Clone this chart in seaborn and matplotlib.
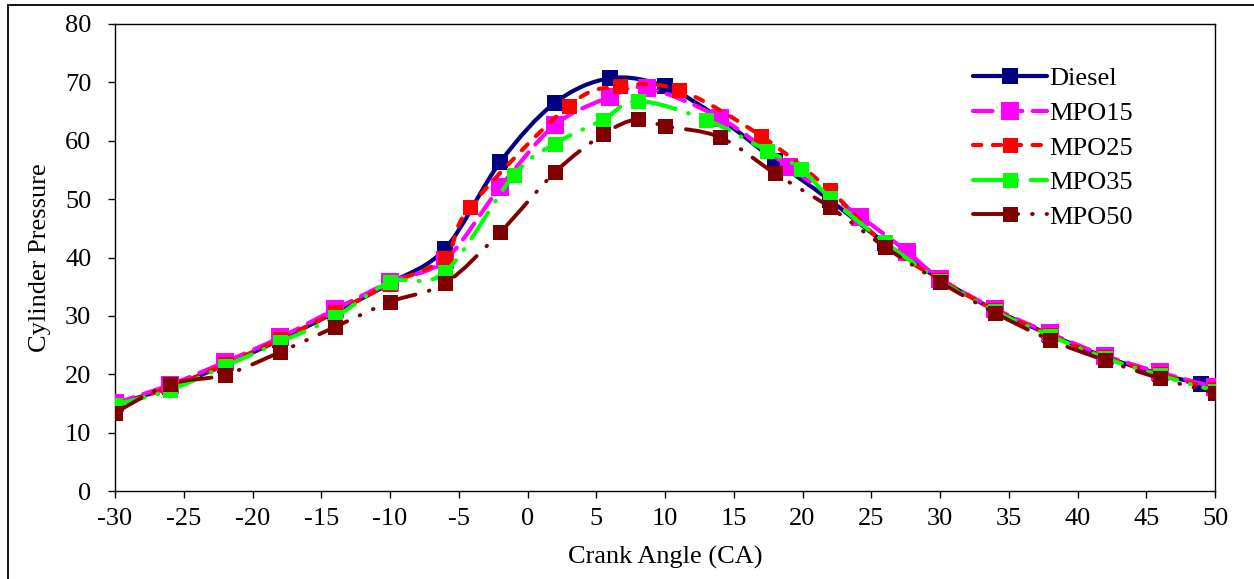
import numpy as np
import matplotlib
matplotlib.use("Agg")
import matplotlib.pyplot as plt
import seaborn as sns
from matplotlib.path import Path
from matplotlib.patches import PathPatch, Rectangle
from matplotlib.lines import Line2D

# ---------------- data ----------------
diesel_x = [-30, -26, -22, -18, -14, -10, -6, -2, 2, 6, 10, 14, 18, 22, 26, 30, 34, 38, 42, 46, 49]
diesel_y = [14.8, 17.8, 21.6, 25.9, 30.6, 35.6, 41.5, 56.3, 66.5, 70.7, 69.3, 63.8, 56.6, 49.8, 42.5, 36.3, 31.0, 26.8, 23.0, 20.0, 18.4]

mpo15_x = [-30, -26, -22, -18, -14, -10, -6, -2, 2, 6, 8.7, 14, 19, 24.2, 27.6, 30, 34, 38, 42, 46, 50]
mpo15_y = [15.0, 18.2, 22.1, 26.3, 31.1, 35.8, 39.6, 52.0, 62.7, 67.5, 69.0, 63.9, 55.5, 47.0, 41.0, 36.4, 31.2, 27.0, 23.2, 20.3, 17.8]

mpo25_x = [-30, -26, -22, -18, -14, -10, -6, -4.2, 3, 6.7, 11, 17, 22, 26, 30, 34, 38, 42, 46, 50]
mpo25_y = [14.6, 17.8, 21.7, 26.0, 30.6, 35.5, 40.0, 48.6, 66.0, 69.3, 68.7, 60.8, 51.5, 42.2, 36.2, 31.0, 26.7, 22.9, 20.0, 17.4]

mpo35_x = [-30, -26, -22, -18, -14, -10, -6, -1, 2, 5.5, 8, 13, 17.4, 19.9, 22, 26, 30, 34, 38, 42, 46, 50]
mpo35_y = [14.8, 17.3, 21.4, 25.5, 29.8, 35.8, 37.5, 54.1, 59.5, 63.6, 66.8, 63.6, 58.3, 55.2, 50.2, 42.6, 36.0, 30.8, 26.6, 22.8, 19.8, 17.2]

mpo50_x = [-30, -26, -22, -18, -14, -10, -6, -2, 2, 5.5, 8, 10, 14, 18, 22, 26, 30, 34, 38, 42, 46, 50]
mpo50_y = [13.4, 18.3, 19.9, 23.8, 28.1, 32.4, 35.6, 44.3, 54.6, 61.1, 63.7, 62.5, 60.6, 54.4, 48.6, 41.8, 35.8, 30.5, 25.9, 22.4, 19.3, 16.8]

labels = ["Diesel", "MPO15", "MPO25", "MPO35", "MPO50"]
x_ticks = list(range(-30, 51, 5))
y_ticks = list(range(0, 81, 10))

# ---------------- style ----------------
sns.set_theme(style="ticks")
plt.rcParams["font.family"] = ["Liberation Serif", "DejaVu Serif"]
plt.rcParams["axes.unicode_minus"] = False
plt.rcParams["lines.scale_dashes"] = False
plt.rcParams["text.color"] = "black"
plt.rcParams["axes.labelcolor"] = "black"
plt.rcParams["xtick.color"] = "black"
plt.rcParams["ytick.color"] = "black"

FS = 19

fig = plt.figure(figsize=(12.54, 5.79), dpi=100)
fig.patch.set_facecolor("white")
ax = fig.add_axes([115 / 1254, 1 - 491 / 579, 1100 / 1254, 467 / 579])


def smooth_path(xs, ys):
    pts = np.column_stack([xs, ys]).astype(float)
    n = len(pts)
    verts = [pts[0]]
    codes = [Path.MOVETO]
    for i in range(n - 1):
        p0 = pts[i - 1] if i > 0 else pts[i]
        p1 = pts[i]
        p2 = pts[i + 1]
        p3 = pts[i + 2] if i + 2 < n else pts[i + 1]
        c1 = p1 + (p2 - p0) / 6.0
        c2 = p2 - (p3 - p1) / 6.0
        verts += [c1, c2, p2]
        codes += [Path.CURVE4] * 3
    return Path(verts, codes)


series = [
    (diesel_x, diesel_y, "#000080", "solid", 3.0, 11.5),
    (mpo15_x, mpo15_y, "#FF00FF", (0, (14.0, 7.5)), 3.0, 13.0),
    (mpo25_x, mpo25_y, "#FF0000", (0, (6.0, 8.3)), 3.0, 10.8),
    (mpo35_x, mpo35_y, "#00FF00", (0, (22.0, 9.5, 0.5, 9.5)), 3.0, 10.8),
    (mpo50_x, mpo50_y, "#800000", (0, (22.0, 10.0, 0.5, 10.0, 0.5, 10.0)), 2.8, 10.8),
]

handles = []
for i, (xs, ys, color, ls, lw, ms) in enumerate(series):
    patch = PathPatch(smooth_path(xs, ys), facecolor="none", edgecolor=color,
                      lw=lw, linestyle=ls, capstyle="round", joinstyle="round",
                      zorder=3 + 2 * i)
    ax.add_patch(patch)
    sns.scatterplot(x=xs, y=ys, ax=ax, marker="s", s=ms ** 2, color=color,
                    linewidth=0, zorder=4 + 2 * i, legend=False)
    handles.append(Line2D([], [], color=color, lw=lw, linestyle=ls, marker="s",
                          markersize=ms, markeredgewidth=0,
                          dash_capstyle="round", solid_capstyle="round"))

ax.set_xlim(-30, 50)
ax.set_ylim(0, 80)
ax.set_xticks(x_ticks)
ax.set_xticklabels([str(t) for t in x_ticks])
ax.set_yticks(y_ticks)
ax.set_yticklabels([str(t) for t in y_ticks])
ax.tick_params(direction="out", length=5, width=1, labelsize=FS)
ax.tick_params(axis="x", pad=7)
ax.tick_params(axis="y", pad=12)
for sp in ax.spines.values():
    sp.set_visible(True)
    sp.set_color("black")
    sp.set_linewidth(1.0)
ax.set_facecolor("white")

ax.set_xlabel("Crank Angle (CA)", fontsize=FS, labelpad=12)
ax.set_ylabel("Cylinder Pressure", fontsize=FS, labelpad=10)

ax.legend(handles, labels, loc="upper left", bbox_to_anchor=(0.78, 0.908),
          frameon=False, fontsize=FS, handlelength=2.8, handletextpad=0.1,
          labelspacing=0.42, borderaxespad=0, borderpad=0)

# outer chart border
fig.add_artist(Rectangle((8 / 1254, -0.1), 1.2, 1.1 - 5 / 579, transform=fig.transFigure,
                         fill=False, edgecolor="black", lw=1.3))

fig.savefig("out.png", dpi=100)
